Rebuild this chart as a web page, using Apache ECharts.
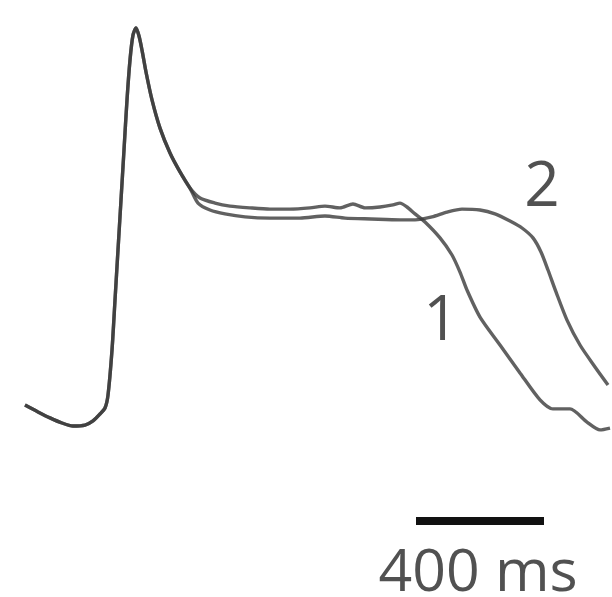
<!DOCTYPE html>
<html>
<head>
<meta charset="utf-8">
<script src="https://cdn.jsdelivr.net/npm/echarts@6/dist/echarts.min.js"></script>
<style>
  html, body { margin: 0; padding: 0; background: #fff; }
  #chart { width: 612px; height: 597px; }
</style>
</head>
<body>
<div id="chart"></div>
<script>
// Action potential recordings: time in ms, membrane potential in mV.
// Rest, upstroke, spike and early repolarisation are common to both traces.
const sharedTime = [-259.4, -218.8, -181.3, -143.8, -109.4, -71.9, -46.9, -25, -9.4, 0, 12.5, 21.9, 31.25, 40.6, 50, 59.4, 68.75, 78.1, 87.5, 96.9, 106.25, 118.75, 137.5, 162.5, 193.75, 225, 256.25];
const sharedVm = [-86.0, -88.3, -90.3, -92.0, -93.0, -92.7, -91.3, -89.0, -87.0, -82.7, -67.7, -51.0, -34.3, -17.7, -1.0, 15.7, 29.0, 37.3, 39.7, 37.0, 32.3, 25.0, 15.7, 6.3, -2.0, -8.3, -13.7];

// Trace 1: plateau and earlier repolarisation
const trace1Time = [287.5, 334.4, 381.25, 443.75, 506.25, 568.75, 631.25, 678.1, 725, 765.6, 803.1, 850, 890.6, 912.5, 934.4, 959.4, 990.6, 1037.5, 1075, 1100, 1121.9, 1162.5, 1225, 1287.5, 1350, 1390.6, 1443.75, 1496.9, 1537.5, 1568.75];
const trace1Vm = [-17.0, -18.7, -19.7, -20.3, -20.7, -20.7, -20.3, -19.7, -20.3, -19.0, -20.3, -20.0, -19.3, -18.7, -20.0, -22.3, -25.0, -30.3, -36.0, -41.7, -47.7, -56.7, -66.0, -75.3, -84.3, -87.3, -87.3, -91.7, -94.3, -93.7];

// Trace 2: prolonged plateau and later repolarisation
const trace2Time = [281.25, 318.75, 365.6, 428.1, 506.25, 600, 678.1, 740.6, 821.9, 912.5, 959.4, 1012.5, 1059.4, 1106.25, 1162.5, 1209.4, 1256.25, 1293.75, 1328.1, 1353.1, 1375, 1400, 1434.4, 1475, 1521.9, 1562.5];
const trace2Vm = [-18.7, -21.0, -22.3, -23.3, -23.7, -23.7, -23.0, -23.7, -24.0, -24.3, -24.3, -23.3, -21.7, -20.7, -21.0, -22.3, -24.7, -27.0, -30.3, -35.0, -41.0, -48.3, -57.7, -66.0, -73.3, -79.3];

// Trace labels and the time scale bar
const traceLabels = ['1', '2'];
const labelTime = [1040.6, 1356.25];
const labelVm = [-58.3, -13.7];
const scaleBarStart = 962.5;
const scaleBarLength = 400;
const scaleBarVm = -124.7;
const scaleBarText = '400 ms';
const scaleTextVm = -142.3;

function pairs(t, v) { return t.map((x, i) => [x, v[i]]); }

const traceStyle = { color: '#3a3a3a', width: 3.4, opacity: 0.8 };

const chart = echarts.init(document.getElementById('chart'), null, { renderer: 'canvas' });
chart.setOption({
  animation: false,
  backgroundColor: '#fff',
  grid: { left: 0, right: 0, top: 0, bottom: 0 },
  xAxis: { type: 'value', min: -337.5, max: 1575, show: false },
  yAxis: { type: 'value', min: -150, max: 49, show: false },
  series: [
    {
      name: 'trace 1', type: 'line', symbol: 'none', smooth: 0.25,
      lineStyle: traceStyle,
      data: pairs(sharedTime, sharedVm).concat(pairs(trace1Time, trace1Vm))
    },
    {
      name: 'trace 2', type: 'line', symbol: 'none', smooth: 0.25,
      lineStyle: traceStyle,
      data: pairs(sharedTime, sharedVm).concat(pairs(trace2Time, trace2Vm))
    },
    {
      name: 'scale bar', type: 'line', symbol: 'none',
      lineStyle: { color: '#111', width: 8, cap: 'butt' },
      data: [[scaleBarStart, scaleBarVm], [scaleBarStart + scaleBarLength, scaleBarVm]]
    },
    {
      name: 'labels', type: 'scatter', symbolSize: 0,
      label: {
        show: true, position: 'inside',
        formatter: p => p.data.text,
        color: '#262626', fontFamily: 'Open Sans', fontSize: 62
      },
      data: traceLabels.map((s, i) => ({ value: [labelTime[i], labelVm[i]], text: s })).concat([
        { value: [scaleBarStart + scaleBarLength / 2 - 6, scaleTextVm], text: scaleBarText, label: { fontSize: 59 } }
      ])
    }
  ]
});
</script>
</body>
</html>
